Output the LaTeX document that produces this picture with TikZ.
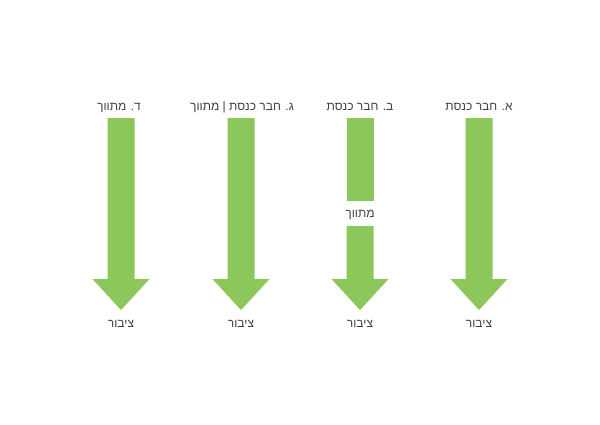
\documentclass[tikz,border=0pt]{standalone}
\usepackage{fontspec}
\newfontfamily\hebfont[Script=Hebrew]{Liberation Sans}
\TeXXeTstate=1
\definecolor{arrgreen}{RGB}{139,199,90}
\definecolor{txtgray}{RGB}{64,64,64}
\begin{document}
\begin{tikzpicture}[x=1pt,y=-1pt,
  lbl/.style={anchor=base,inner sep=0pt,text=txtgray,font=\hebfont\fontsize{12}{14}\selectfont},
  arrfill/.style={fill=arrgreen,draw=none}]
\useasboundingbox[fill=white] (0,0) rectangle (600,424);
% arrows
\foreach \cx/\top in {479/118,241/118,121/118,360/226}{
  \fill[arrgreen] (\cx-13.5,\top) -- (\cx+13.5,\top) -- (\cx+13.5,279) -- (\cx+28.5,279)
     -- (\cx,310) -- (\cx-28.5,279) -- (\cx-13.5,279) -- cycle;
}
\fill[arrgreen] (346.5,118) rectangle (373.5,201);
% labels
\node[lbl] (ta) at (479,110) {\beginR א. חבר כנסת\endR};
\node[lbl] (tb) at (360,110) {\beginR ב. חבר כנסת\endR};
\node[lbl] (tc) at (242,110) {\beginR ג. חבר כנסת | מתווך\endR};
\node[lbl] (td) at (119,110) {\beginR ד. מתווך\endR};
\node[lbl] (mb) at (360,217) {\beginR מתווך\endR};
\node[lbl] (ba) at (479,327) {\beginR ציבור\endR};
\node[lbl] (bb) at (360,327) {\beginR ציבור\endR};
\node[lbl] (bc) at (241,327) {\beginR ציבור\endR};
\node[lbl] (bd) at (121,327) {\beginR ציבור\endR};
\end{tikzpicture}
\end{document}
